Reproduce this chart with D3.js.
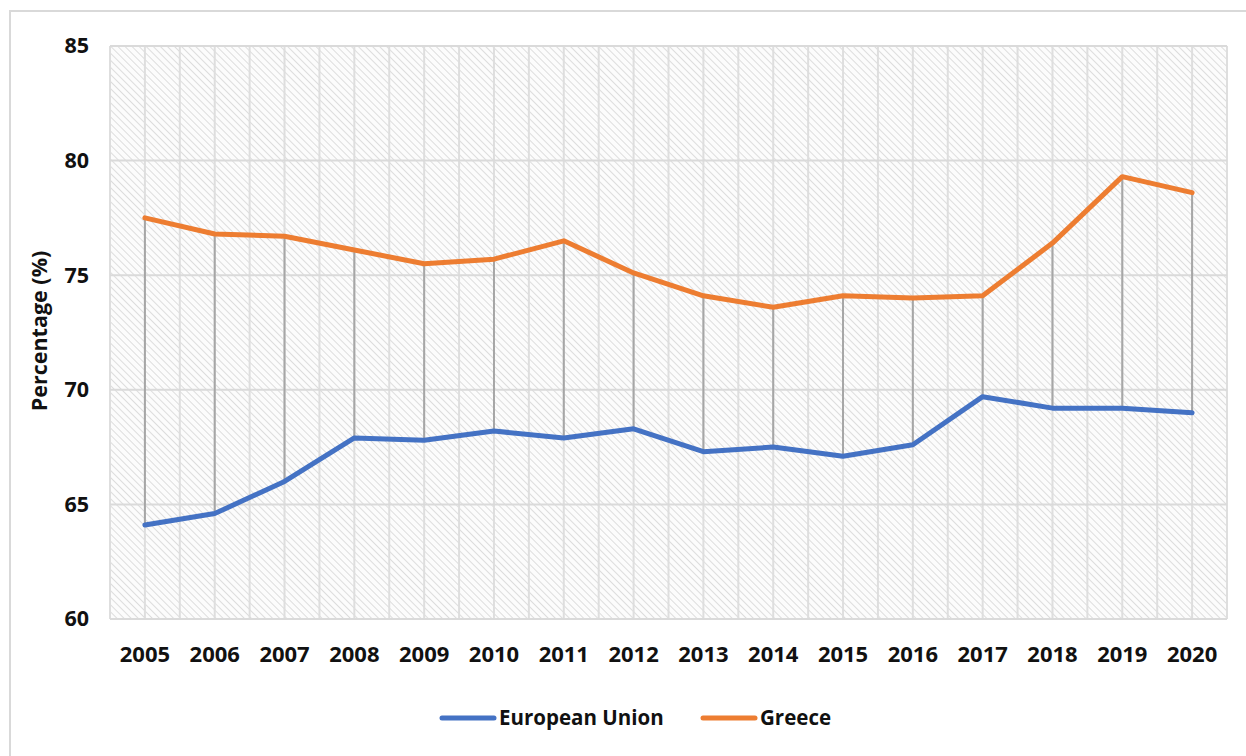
<!DOCTYPE html>
<html>
<head>
<meta charset="utf-8">
<script src="https://cdn.jsdelivr.net/npm/d3@7/dist/d3.min.js"></script>
<style>
  html, body { margin: 0; padding: 0; background: #fff; }
  svg { display: block; }
  text { font-family: "Open Sans", "DejaVu Sans", sans-serif; font-weight: 700; fill: #111; }
</style>
</head>
<body>
<svg id="chart" width="1246" height="756"></svg>
<script>
// Share of population (%) by year, European Union vs Greece
const years = ["2005","2006","2007","2008","2009","2010","2011","2012","2013","2014","2015","2016","2017","2018","2019","2020"];
const euValues = [64.1, 64.6, 66.0, 67.9, 67.8, 68.2, 67.9, 68.3, 67.3, 67.5, 67.1, 67.6, 69.7, 69.2, 69.2, 69.0];
const greeceValues = [77.5, 76.8, 76.7, 76.1, 75.5, 75.7, 76.5, 75.1, 74.1, 73.6, 74.1, 74.0, 74.1, 76.4, 79.3, 78.6];
const yTicks = [60, 65, 70, 75, 80, 85];
const seriesNames = ["European Union", "Greece"];
const seriesColors = ["#4472C4", "#ED7D31"];

const svg = d3.select("#chart");
const W = 1246, H = 756;
const plot = { left: 110, right: 1227, top: 46, bottom: 619 };

// outer chart frame
svg.append("rect")
  .attr("x", 10).attr("y", 11).attr("width", W + 10).attr("height", H + 10)
  .attr("fill", "#fff").attr("stroke", "#d9d9d9").attr("stroke-width", 2);

// diagonal hatch fill for the plot area
const defs = svg.append("defs");
const pat = defs.append("pattern")
  .attr("id", "hatch").attr("patternUnits", "userSpaceOnUse")
  .attr("width", 5).attr("height", 5)
  .attr("patternTransform", "rotate(-45)");
pat.append("rect").attr("width", 5).attr("height", 5).attr("fill", "#fcfcfc");
pat.append("line").attr("x1", 0).attr("y1", 0).attr("x2", 0).attr("y2", 5)
  .attr("stroke", "#c8c8c8").attr("stroke-width", 1.2);

const x = d3.scaleBand().domain(years).range([plot.left, plot.right]).padding(0);
const y = d3.scaleLinear().domain([60, 85]).range([plot.bottom, plot.top]);
const cx = d => x(d) + x.bandwidth() / 2;

svg.append("rect")
  .attr("x", plot.left).attr("y", plot.top)
  .attr("width", plot.right - plot.left).attr("height", plot.bottom - plot.top)
  .attr("fill", "url(#hatch)");

// vertical gridlines: at each category edge and centre
const vGrid = [];
years.forEach(yr => { vGrid.push(x(yr)); vGrid.push(cx(yr)); });
vGrid.push(plot.right);
svg.append("g").selectAll("line").data(vGrid).join("line")
  .attr("x1", d => d).attr("x2", d => d)
  .attr("y1", plot.top).attr("y2", plot.bottom)
  .attr("stroke", "#dedede").attr("stroke-width", 2);

// horizontal gridlines
svg.append("g").selectAll("line").data(yTicks).join("line")
  .attr("x1", plot.left).attr("x2", plot.right)
  .attr("y1", d => y(d)).attr("y2", d => y(d))
  .attr("stroke", "#dadada").attr("stroke-width", 2);

// y axis labels
const yAxis = d3.axisLeft(y).tickValues(yTicks).tickSize(0).tickPadding(21);
svg.append("g").attr("transform", `translate(${plot.left},0)`).call(yAxis)
  .call(g => g.select(".domain").remove())
  .call(g => g.selectAll("text").style("font-size", "21.5px").attr("fill", "#111")
    .style("font-family", "'Open Sans', sans-serif").style("font-weight", 700));

// x axis labels
const xAxis = d3.axisBottom(x).tickSize(0).tickPadding(27);
svg.append("g").attr("transform", `translate(0,${plot.bottom})`).call(xAxis)
  .call(g => g.select(".domain").remove())
  .call(g => g.selectAll("text").style("font-size", "22px").attr("fill", "#111")
    .style("font-family", "'Open Sans', sans-serif").style("font-weight", 700));

// y axis title
svg.append("text")
  .attr("transform", `translate(47,331) rotate(-90)`)
  .attr("text-anchor", "middle")
  .style("font-size", "21.5px")
  .text("Percentage (%)");

// high-low drop lines between the two series
svg.append("g").selectAll("line").data(years).join("line")
  .attr("x1", d => cx(d)).attr("x2", d => cx(d))
  .attr("y1", (d, i) => y(greeceValues[i]))
  .attr("y2", (d, i) => y(euValues[i]))
  .attr("stroke", "#a6a6a6").attr("stroke-width", 2);

// series lines
const line = d3.line().x((d, i) => cx(years[i])).y(d => y(d));
[euValues, greeceValues].forEach((vals, k) => {
  svg.append("path").datum(vals)
    .attr("d", line)
    .attr("fill", "none")
    .attr("stroke", seriesColors[k])
    .attr("stroke-width", 5)
    .attr("stroke-linejoin", "round")
    .attr("stroke-linecap", "round");
});

// legend
const legend = svg.append("g");
const legendItems = [
  { name: seriesNames[0], color: seriesColors[0], x0: 442 },
  { name: seriesNames[1], color: seriesColors[1], x0: 703 }
];
legendItems.forEach(it => {
  legend.append("line")
    .attr("x1", it.x0).attr("x2", it.x0 + 52)
    .attr("y1", 718).attr("y2", 718)
    .attr("stroke", it.color).attr("stroke-width", 5)
    .attr("stroke-linecap", "round");
  legend.append("text")
    .attr("x", it.x0 + 57).attr("y", 718)
    .attr("dy", "0.35em")
    .style("font-size", "20.5px")
    .text(it.name);
});
</script>
</body>
</html>
